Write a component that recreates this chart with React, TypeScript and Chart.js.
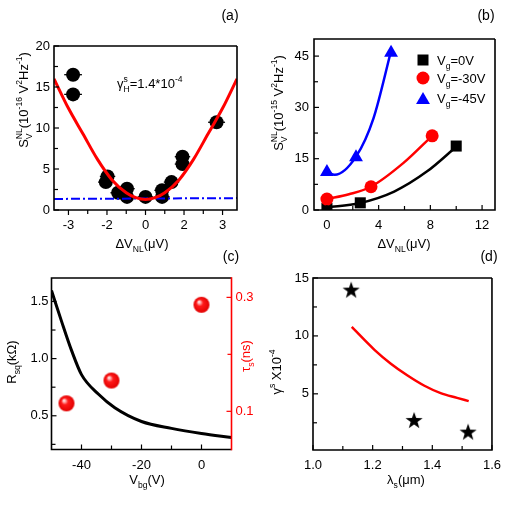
import React, { useEffect, useRef } from 'react';
import { Chart, registerables } from 'chart.js';

Chart.register(...registerables);

const FONT = "'Liberation Sans', Arial, Helvetica, sans-serif";
const W = 509;
const H = 509;
const RED = '#ff0000';
const BLUE = '#0000ff';
const BLACK = '#000000';

// ---------------- Panel (a) ----------------
const aXTicks = [-4, -2, 0, 2, 4];
const aXLabels = ['-3', '-2', '0', '2', '3'];
const aXMinor = [-3, -1, 1, 3];
const aYTicks = [0, 5, 10, 15, 20];
const aYLabels = ['0', '5', '10', '15', '20'];
const aYMinor = [2.5, 7.5, 12.5, 17.5];
const aPtX = [-3.76, -3.76, -1.97, -2.06, -1.42, -0.96, -0.96, 0, 0.86, 0.86, 1.35, 1.92, 1.92, 3.69];
const aPtY = [16.5, 14.1, 4.1, 3.4, 2.1, 2.6, 1.6, 1.6, 2.4, 1.6, 3.4, 6.5, 5.6, 10.7];
const aPtErr = [0.46, 0.46, 0.4, 0.4, 0.4, 0.4, 0.4, 0.4, 0.4, 0.4, 0.4, 0.4, 0.4, 0.44];
const aFitX = [-4.75, -4, -3.25, -2.5, -1.75, -1, -0.5, 0, 0.5, 1, 1.75, 2.5, 3.25, 4, 4.75];
const aFitY = [16.0, 12.4, 9.3, 6.2, 3.7, 2.1, 1.5, 1.27, 1.5, 2.1, 3.7, 6.2, 9.3, 12.4, 16.0];
const aBaseX = [-4.75, 4.75];
const aBaseY = [1.35, 1.45];

// ---------------- Panel (b) ----------------
const bXTicks = [0, 4, 8, 12];
const bXLabels = ['0', '4', '8', '12'];
const bXMinor = [2, 6, 10];
const bYTicks = [0, 15, 30, 45];
const bYLabels = ['0', '15', '30', '45'];
const bYMinor = [7.5, 22.5, 37.5];
const bSqX = [0, 2.58, 10.0];
const bSqY = [0.5, 2.1, 18.7];
const bCircX = [0, 3.41, 8.14];
const bCircY = [3.2, 6.8, 21.7];
const bTriX = [0, 2.25, 4.96];
const bTriY = [11.1, 15.4, 46.0];
const bBlackFitX = [0, 2.5, 5.2, 7.75, 10];
const bBlackFitY = [0.8, 2.0, 5.4, 11.3, 18.5];
const bRedFitX = [0, 1.7, 3.4, 5.9, 8.14];
const bRedFitY = [3.2, 4.6, 6.8, 13.7, 21.7];
const bBlueFitX = [0, 0.6, 2.25, 3.6, 4.96];
const bBlueFitY = [11.3, 10.3, 15.6, 26.8, 46.5];
const bLegendLabels = ['V_{g}=0V', 'V_{g}=-30V', 'V_{g}=-45V'];

// ---------------- Panel (c) ----------------
const cXTicks = [-40, -20, 0];
const cXLabels = ['-40', '-20', '0'];
const cXMinor = [-30, -10];
const cYTicks = [0.5, 1.0, 1.5];
const cYLabels = ['0.5', '1.0', '1.5'];
const cYMinor = [0.25, 0.75, 1.25];
const cY2Ticks = [0.1, 0.3];
const cY2Labels = ['0.1', '0.3'];
const cY2Minor = [0.2];
const cRsqX = [-50, -46.7, -43.3, -40, -34.4, -28.9, -20, -10, 0, 10];
const cRsqY = [1.595, 1.33, 1.07, 0.86, 0.69, 0.57, 0.45, 0.39, 0.345, 0.31];
const cTauX = [-45, -30, 0];
const cTauY = [0.114, 0.154, 0.287];

// ---------------- Panel (d) ----------------
const dXTicks = [1.0, 1.2, 1.4, 1.6];
const dXLabels = ['1.0', '1.2', '1.4', '1.6'];
const dXMinor = [1.1, 1.3, 1.5];
const dYTicks = [5, 10, 15];
const dYLabels = ['5', '10', '15'];
const dYMinor = [2.5, 7.5, 12.5];
const dStarX = [1.128, 1.339, 1.52];
const dStarY = [14.0, 2.75, 1.74];
const dFitX = [1.13, 1.206, 1.261, 1.317, 1.372, 1.428, 1.483, 1.522];
const dFitY = [10.77, 8.8, 7.6, 6.58, 5.72, 5.06, 4.65, 4.37];

// ---------------- helpers ----------------
const zip = (xs: number[], ys: number[]) => xs.map((x, i) => ({ x, y: ys[i] }));

type Txt = { s: string; x: number; y: number; size?: number; color?: string; rot?: number; align?: 'left' | 'center' | 'right' };
type Part = { t?: string; sub?: string; sup?: string };

function parseRich(s: string): Part[] {
  const parts: Part[] = [];
  let buf = '';
  let lastScript = false;
  let i = 0;
  while (i < s.length) {
    const c = s[i];
    if ((c === '_' || c === '^') && s[i + 1] === '{') {
      const end = s.indexOf('}', i);
      const content = s.slice(i + 2, end);
      const key = c === '_' ? 'sub' : 'sup';
      if (buf) {
        parts.push({ t: buf });
        buf = '';
        lastScript = false;
      }
      const last: any = parts[parts.length - 1];
      if (lastScript && last && last[key] === undefined) last[key] = content;
      else parts.push({ [key]: content } as Part);
      lastScript = true;
      i = end + 1;
    } else {
      buf += c;
      i++;
    }
  }
  if (buf) parts.push({ t: buf });
  return parts;
}

function drawRich(ctx: CanvasRenderingContext2D, tx: Txt) {
  const size = tx.size ?? 13;
  const ss = size * 0.66;
  const big = `${size}px ${FONT}`;
  const small = `${ss}px ${FONT}`;
  const parts = parseRich(tx.s);
  ctx.save();
  ctx.translate(tx.x, tx.y);
  if (tx.rot) ctx.rotate(tx.rot);
  ctx.fillStyle = tx.color ?? BLACK;
  ctx.textAlign = 'left';
  ctx.textBaseline = 'alphabetic';
  const widths = parts.map((p) => {
    if (p.t !== undefined) {
      ctx.font = big;
      return ctx.measureText(p.t).width;
    }
    ctx.font = small;
    return Math.max(p.sub ? ctx.measureText(p.sub).width : 0, p.sup ? ctx.measureText(p.sup).width : 0);
  });
  const total = widths.reduce((a, b) => a + b, 0);
  let cx = tx.align === 'left' ? 0 : tx.align === 'right' ? -total : -total / 2;
  const base = size * 0.36;
  parts.forEach((p, i) => {
    if (p.t !== undefined) {
      ctx.font = big;
      ctx.fillText(p.t, cx, base);
    } else {
      ctx.font = small;
      if (p.sub) ctx.fillText(p.sub, cx, base + size * 0.32);
      if (p.sup) ctx.fillText(p.sup, cx, base - size * 0.46);
    }
    cx += widths[i];
  });
  ctx.restore();
}

type TickSpec = { scale: string; side: 'left' | 'right' | 'bottom'; major: number[]; minor: number[]; color?: string; out?: boolean };
type LegendItem = { shape: 'rect' | 'circle' | 'triangle'; color: string; label: string; y: number };
type Decor = {
  rightColor?: string;
  ticks: TickSpec[];
  texts: Txt[];
  legend?: { markerX: number; labelX: number; items: LegendItem[] };
  errX?: { xs: number[]; ys: number[]; err: number[] };
};

function decorPlugin(d: Decor) {
  return {
    id: 'decor',
    beforeDatasetsDraw(chart: any) {
      if (!d.errX) return;
      const ctx = chart.ctx as CanvasRenderingContext2D;
      const xs = chart.scales.x;
      const ys = chart.scales.y;
      ctx.save();
      ctx.strokeStyle = BLACK;
      ctx.lineWidth = 1.3;
      d.errX.xs.forEach((x, i) => {
        const py = ys.getPixelForValue(d.errX!.ys[i]);
        const x1 = xs.getPixelForValue(x - d.errX!.err[i]);
        const x2 = xs.getPixelForValue(x + d.errX!.err[i]);
        ctx.beginPath();
        ctx.moveTo(x1, py);
        ctx.lineTo(x2, py);
        ctx.stroke();
      });
      ctx.restore();
    },
    afterDraw(chart: any) {
      const ctx = chart.ctx as CanvasRenderingContext2D;
      const a = chart.chartArea;
      ctx.save();
      // frame
      ctx.lineWidth = 1.6;
      ctx.strokeStyle = BLACK;
      ctx.beginPath();
      ctx.moveTo(a.right, a.top);
      ctx.lineTo(a.left, a.top);
      ctx.lineTo(a.left, a.bottom);
      ctx.lineTo(a.right, a.bottom);
      if (!d.rightColor) ctx.lineTo(a.right, a.top);
      ctx.stroke();
      if (d.rightColor) {
        ctx.strokeStyle = d.rightColor;
        ctx.beginPath();
        ctx.moveTo(a.right, a.top - 0.8);
        ctx.lineTo(a.right, a.bottom + 0.8);
        ctx.stroke();
      }
      // tick marks
      ctx.lineWidth = 1.2;
      d.ticks.forEach((t) => {
        const sc = chart.scales[t.scale];
        ctx.strokeStyle = t.color ?? BLACK;
        const draw = (v: number, len: number) => {
          const p = sc.getPixelForValue(v);
          ctx.beginPath();
          if (t.side === 'left') {
            ctx.moveTo(a.left, p);
            ctx.lineTo(a.left + len, p);
          } else if (t.side === 'right') {
            ctx.moveTo(a.right, p);
            ctx.lineTo(a.right - len, p);
          } else {
            const dir = t.out ? 1 : -1;
            ctx.moveTo(p, a.bottom);
            ctx.lineTo(p, a.bottom + dir * len);
          }
          ctx.stroke();
        };
        t.major.forEach((v) => draw(v, 5));
        t.minor.forEach((v) => draw(v, 4));
      });
      // legend
      if (d.legend) {
        const L = d.legend;
        L.items.forEach((it) => {
          const x = L.markerX;
          const y = it.y;
          ctx.fillStyle = it.color;
          ctx.beginPath();
          if (it.shape === 'rect') ctx.rect(x - 5.5, y - 5.5, 11, 11);
          else if (it.shape === 'circle') ctx.arc(x, y, 6.5, 0, Math.PI * 2);
          else {
            const r = 8;
            const cy = y + 2;
            ctx.moveTo(x, cy - r);
            ctx.lineTo(x + r * 0.866, cy + r / 2);
            ctx.lineTo(x - r * 0.866, cy + r / 2);
            ctx.closePath();
          }
          ctx.fill();
          drawRich(ctx, { s: it.label, x: L.labelX, y, align: 'left' });
        });
      }
      // texts
      d.texts.forEach((tx) => drawRich(ctx, tx));
      ctx.restore();
    },
  };
}

const YW = 40;
const XH = 30;

function axis(o: { pos: 'left' | 'right' | 'bottom'; min: number; max: number; ticks: number[]; labels: string[]; pad: number; color?: string }) {
  const horiz = o.pos === 'bottom';
  return {
    type: 'linear',
    position: o.pos,
    min: o.min,
    max: o.max,
    bounds: 'data',
    grid: { display: false, drawTicks: false, tickLength: 0 },
    border: { display: false },
    ticks: {
      autoSkip: false,
      maxRotation: 0,
      minRotation: 0,
      padding: o.pad,
      color: o.color ?? BLACK,
      font: { family: FONT, size: 13 },
      callback: (v: number) => {
        const k = o.ticks.findIndex((t) => Math.abs(t - v) < 1e-9);
        return k >= 0 ? o.labels[k] : '';
      },
    },
    afterBuildTicks: (s: any) => {
      s.ticks = o.ticks.map((v) => ({ value: v }));
    },
    afterFit: (s: any) => {
      if (horiz) s.height = XH;
      else s.width = YW;
    },
  };
}

function baseOptions(area: { l: number; t: number; r: number; b: number }, scales: any, hasRight = false) {
  return {
    responsive: false,
    maintainAspectRatio: false,
    animation: false,
    events: [],
    layout: {
      padding: {
        left: area.l - YW,
        top: area.t,
        right: W - area.r - (hasRight ? YW : 0),
        bottom: H - area.b - XH,
      },
    },
    plugins: { legend: { display: false }, title: { display: false }, tooltip: { enabled: false } },
    scales,
  };
}

function sphereImage(r: number) {
  const c = document.createElement('canvas');
  const s = Math.ceil(r * 2 + 2);
  c.width = s;
  c.height = s;
  const g = c.getContext('2d')!;
  const cx = s / 2;
  const cy = s / 2;
  const grad = g.createRadialGradient(cx - r * 0.35, cy - r * 0.4, 0, cx, cy, r);
  grad.addColorStop(0, '#ffffff');
  grad.addColorStop(0.18, '#ffb0b0');
  grad.addColorStop(0.42, '#ff1a1a');
  grad.addColorStop(1, '#e20000');
  g.fillStyle = grad;
  g.beginPath();
  g.arc(cx, cy, r, 0, Math.PI * 2);
  g.fill();
  return c;
}

function starImage(R: number, rIn: number) {
  const c = document.createElement('canvas');
  const s = Math.ceil(R * 2 + 2);
  c.width = s;
  c.height = s;
  const g = c.getContext('2d')!;
  const cx = s / 2;
  const cy = s / 2 + 1;
  g.fillStyle = BLACK;
  g.beginPath();
  for (let k = 0; k < 10; k++) {
    const ang = -Math.PI / 2 + (k * Math.PI) / 5;
    const rad = k % 2 ? rIn : R;
    const px = cx + rad * Math.cos(ang);
    const py = cy + rad * Math.sin(ang);
    if (k === 0) g.moveTo(px, py);
    else g.lineTo(px, py);
  }
  g.closePath();
  g.fill();
  return c;
}

const lineDs = (xs: number[], ys: number[], color: string, width: number, extra: any = {}) => ({
  data: zip(xs, ys),
  showLine: true,
  borderColor: color,
  backgroundColor: color,
  borderWidth: width,
  pointRadius: 0,
  cubicInterpolationMode: 'monotone',
  fill: false,
  ...extra,
});

export default function App() {
  const r0 = useRef<HTMLCanvasElement>(null);
  const r1 = useRef<HTMLCanvasElement>(null);
  const r2 = useRef<HTMLCanvasElement>(null);
  const r3 = useRef<HTMLCanvasElement>(null);

  useEffect(() => {
    Chart.defaults.color = BLACK;
    Chart.defaults.font.family = FONT;
    const sphere = sphereImage(8);
    const star = starImage(9, 3.6);
    const ROT = -Math.PI / 2;

    // ---- (a)
    const areaA = { l: 54, t: 46, r: 237, b: 210 };
    const chartA = new Chart(r0.current!, {
      type: 'scatter',
      data: {
        datasets: [
          lineDs(aFitX, aFitY, RED, 3),
          lineDs(aBaseX, aBaseY, BLUE, 2, { borderDash: [9, 3, 2, 3], cubicInterpolationMode: 'default', tension: 0 }),
          { data: zip(aPtX, aPtY), pointRadius: 7, pointStyle: 'circle', backgroundColor: BLACK, borderWidth: 0 },
        ],
      } as any,
      options: baseOptions(areaA, {
        x: axis({ pos: 'bottom', min: -4.75, max: 4.75, ticks: aXTicks, labels: aXLabels, pad: 8 }),
        y: axis({ pos: 'left', min: 0, max: 20, ticks: aYTicks, labels: aYLabels, pad: 4 }),
      }) as any,
      plugins: [
        decorPlugin({
          ticks: [
            { scale: 'x', side: 'bottom', major: aXTicks, minor: aXMinor, out: true },
            { scale: 'y', side: 'left', major: aYTicks, minor: aYMinor },
          ],
          errX: { xs: aPtX, ys: aPtY, err: aPtErr },
          texts: [
            { s: '(a)', x: 230, y: 15, size: 14 },
            { s: 'S_{V}^{NL}(10^{-16} V^{2}Hz^{-1})', x: 23, y: 100, rot: ROT },
            { s: 'ΔV_{NL}(μV)', x: 142, y: 243 },
            { s: 'γ_{H}^{s}=1.4*10^{-4}', x: 117, y: 83, align: 'left' },
          ],
        }) as any,
      ],
    });

    // ---- (b)
    const areaB = { l: 314, t: 39, r: 495, b: 210 };
    const chartB = new Chart(r1.current!, {
      type: 'scatter',
      data: {
        datasets: [
          { data: zip(bCircX, bCircY), pointRadius: 6.5, pointStyle: 'circle', backgroundColor: RED, borderWidth: 0 },
          { data: zip(bTriX, bTriY), pointRadius: 8, pointStyle: 'triangle', backgroundColor: BLUE, borderWidth: 0 },
          { data: zip(bSqX, bSqY), pointRadius: 7.8, pointStyle: 'rect', backgroundColor: BLACK, borderWidth: 0 },
          lineDs(bBlackFitX, bBlackFitY, BLACK, 2.5),
          lineDs(bRedFitX, bRedFitY, RED, 2.5),
          lineDs(bBlueFitX, bBlueFitY, BLUE, 2.5),
        ],
      } as any,
      options: baseOptions(areaB, {
        x: axis({ pos: 'bottom', min: -1, max: 13, ticks: bXTicks, labels: bXLabels, pad: 8 }),
        y: axis({ pos: 'left', min: 0, max: 50, ticks: bYTicks, labels: bYLabels, pad: 5 }),
      }) as any,
      plugins: [
        decorPlugin({
          ticks: [
            { scale: 'x', side: 'bottom', major: bXTicks, minor: bXMinor },
            { scale: 'y', side: 'left', major: bYTicks, minor: bYMinor },
          ],
          legend: {
            markerX: 423,
            labelX: 437,
            items: [
              { shape: 'rect', color: BLACK, label: bLegendLabels[0], y: 60 },
              { shape: 'circle', color: RED, label: bLegendLabels[1], y: 78 },
              { shape: 'triangle', color: BLUE, label: bLegendLabels[2], y: 98 },
            ],
          },
          texts: [
            { s: '(b)', x: 486, y: 15, size: 14 },
            { s: 'S_{V}^{NL}(10^{-15} V^{2}Hz^{-1})', x: 278, y: 103, rot: ROT },
            { s: 'ΔV_{NL}(μV)', x: 404, y: 243 },
          ],
        }) as any,
      ],
    });

    // ---- (c)
    const areaC = { l: 51.5, t: 278, r: 231.5, b: 449.5 };
    const chartC = new Chart(r2.current!, {
      type: 'scatter',
      data: {
        datasets: [
          { data: zip(cTauX, cTauY), yAxisID: 'y2', pointRadius: 8, pointStyle: sphere, backgroundColor: RED, borderWidth: 0 },
          { ...lineDs(cRsqX, cRsqY, BLACK, 3), yAxisID: 'y' },
        ],
      } as any,
      options: baseOptions(
        areaC,
        {
          x: axis({ pos: 'bottom', min: -50, max: 10, ticks: cXTicks, labels: cXLabels, pad: 8 }),
          y: axis({ pos: 'left', min: 0.205, max: 1.705, ticks: cYTicks, labels: cYLabels, pad: 3 }),
          y2: axis({ pos: 'right', min: 0.033, max: 0.334, ticks: cY2Ticks, labels: cY2Labels, pad: 4, color: RED }),
        },
        true,
      ) as any,
      plugins: [
        decorPlugin({
          rightColor: RED,
          ticks: [
            { scale: 'x', side: 'bottom', major: cXTicks, minor: cXMinor },
            { scale: 'y', side: 'left', major: cYTicks, minor: cYMinor },
            { scale: 'y2', side: 'right', major: cY2Ticks, minor: cY2Minor, color: RED },
          ],
          texts: [
            { s: '(c)', x: 231, y: 256, size: 14 },
            { s: 'R_{sq}(kΩ)', x: 11, y: 362, rot: ROT },
            { s: 'τ_{s}(ns)', x: 245, y: 356, rot: ROT, color: RED },
            { s: 'V_{bg}(V)', x: 147, y: 479 },
          ],
        }) as any,
      ],
    });

    // ---- (d)
    const areaD = { l: 313, t: 278, r: 493, b: 450 };
    const chartD = new Chart(r3.current!, {
      type: 'scatter',
      data: {
        datasets: [
          { data: zip(dStarX, dStarY), pointRadius: 9, pointStyle: star, backgroundColor: BLACK, borderWidth: 0 },
          lineDs(dFitX, dFitY, RED, 2.5),
        ],
      } as any,
      options: baseOptions(areaD, {
        x: axis({ pos: 'bottom', min: 1.0, max: 1.6, ticks: dXTicks, labels: dXLabels, pad: 8 }),
        y: axis({ pos: 'left', min: 0.15, max: 15, ticks: dYTicks, labels: dYLabels, pad: 4 }),
      }) as any,
      plugins: [
        decorPlugin({
          ticks: [
            { scale: 'x', side: 'bottom', major: dXTicks, minor: dXMinor },
            { scale: 'y', side: 'left', major: dYTicks, minor: dYMinor },
          ],
          texts: [
            { s: '(d)', x: 489, y: 256, size: 14 },
            { s: 'γ^{s} X10^{-4}', x: 276, y: 372, rot: ROT },
            { s: 'λ_{s}(μm)', x: 406, y: 479 },
          ],
        }) as any,
      ],
    });

    return () => {
      chartA.destroy();
      chartB.destroy();
      chartC.destroy();
      chartD.destroy();
    };
  }, []);

  const cs: React.CSSProperties = { position: 'absolute', left: 0, top: 0, width: W, height: H };
  return (
    <div style={{ position: 'fixed', left: 0, top: 0, width: W, height: H, background: '#ffffff' }}>
      <canvas ref={r0} width={W} height={H} style={cs} />
      <canvas ref={r1} width={W} height={H} style={cs} />
      <canvas ref={r2} width={W} height={H} style={cs} />
      <canvas ref={r3} width={W} height={H} style={cs} />
    </div>
  );
}
